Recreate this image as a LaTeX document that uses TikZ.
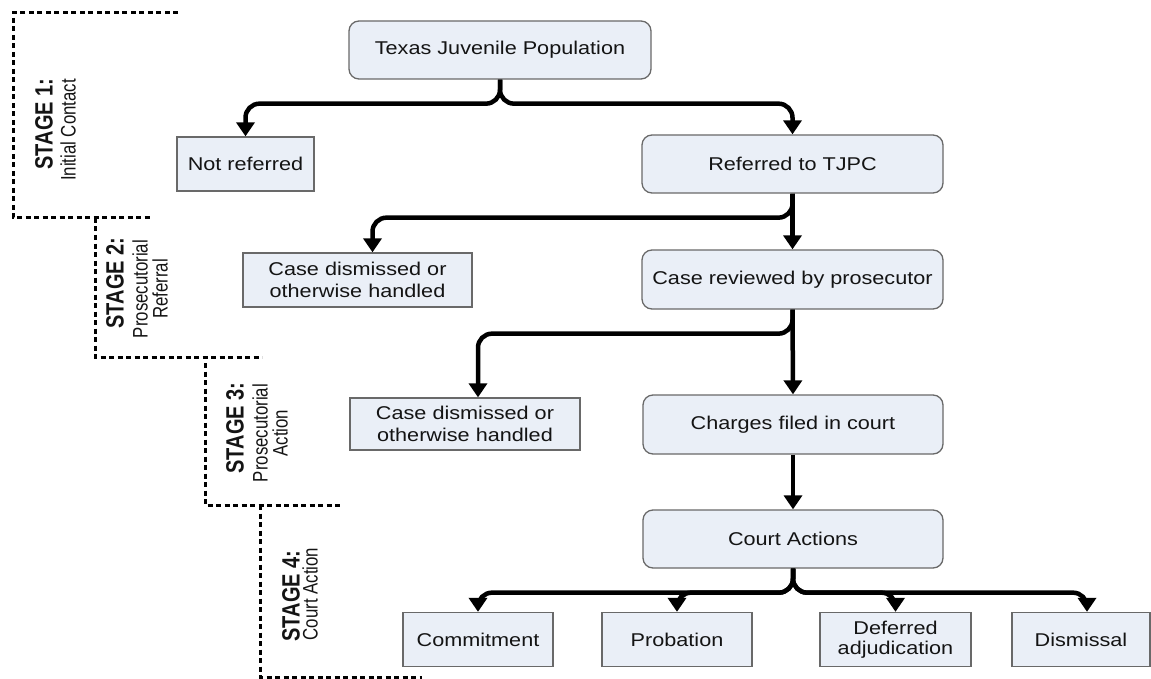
\documentclass[tikz,border=0pt]{standalone}
\usepackage{fontspec}
\setmainfont{Liberation Sans}[FakeStretch=1.17]
\newfontfamily\stagefont{Liberation Sans}[FakeStretch=0.8]
\usetikzlibrary{arrows.meta}
\definecolor{boxfill}{RGB}{234,239,247}
\definecolor{boxdraw}{RGB}{105,105,105}
\definecolor{txt}{RGB}{20,20,20}
\tikzset{
  boxbase/.style={draw=boxdraw, fill=boxfill, line width=1.3pt, inner sep=0pt,
    text=txt, align=center, font=\fontsize{18.5}{22}\selectfont},
  sqbox/.style={boxbase},
  rbox/.style={boxbase, rounded corners=10pt},
  conn/.style={line width=4.5pt, rounded corners=14pt, -{Triangle[width=18pt,length=14pt]}},
  stagebd/.style={line width=3pt, dash pattern=on 5pt off 3.5pt},
  stagehead/.style={rotate=90, inner sep=0pt, text=txt, font=\stagefont\bfseries\fontsize{25}{26}\selectfont},
  stagesub/.style={rotate=90, inner sep=0pt, text=txt, align=center, font=\stagefont\fontsize{21}{20}\selectfont},
}
\begin{document}
\begin{tikzpicture}[x=1pt,y=-1pt]
\path[use as bounding box] (0,0) rectangle (1151,679);

% stage outlines
\draw[stagebd] (178,13) -- (13,13) -- (13,218) -- (152,218);
\draw[stagebd] (95,218) -- (95,357) -- (262,357);
\draw[stagebd] (205,363) -- (205,505) -- (343,505);
\draw[stagebd] (260,505) -- (260,677) -- (422,677);

% stage labels
\node[stagehead] (st1) at (44,124) {STAGE 1:};
\node[stagesub] (st1s) at (68,130) {Initial Contact};
\node[stagehead] (st2) at (115,283) {STAGE 2:};
\node[stagesub] (st2s) at (150,289) {Prosecutorial\\Referral};
\node[stagehead] (st3) at (235,428) {STAGE 3:};
\node[stagesub] (st3s) at (270,433) {Prosecutorial\\Action};
\node[stagehead] (st4) at (291,596) {STAGE 4:};
\node[stagesub] (st4s) at (310,594) {Court Action};

% boxes
\node[rbox, minimum width=302pt, minimum height=58pt] (tjp) at (500,50) {Texas Juvenile Population};
\node[sqbox, minimum width=137pt, minimum height=54pt] (nr) at (245.5,164) {Not referred};
\node[rbox, minimum width=301pt, minimum height=58pt] (ref) at (792.5,164) {Referred to TJPC};
\node[sqbox, minimum width=229pt, minimum height=54pt] (cd1) at (357.5,280) {Case dismissed or\\otherwise handled};
\node[rbox, minimum width=301pt, minimum height=59pt] (crp) at (792.5,279.5) {Case reviewed by prosecutor};
\node[sqbox, minimum width=230pt, minimum height=52pt] (cd2) at (465,424) {Case dismissed or\\otherwise handled};
\node[rbox, minimum width=300pt, minimum height=59pt] (cf) at (793,424.5) {Charges filed in court};
\node[rbox, minimum width=300pt, minimum height=58pt] (ca) at (793,539) {Court Actions};
\node[sqbox, minimum width=150pt, minimum height=54pt] (com) at (478,639.5) {Commitment};
\node[sqbox, minimum width=150pt, minimum height=54pt] (prob) at (677,639.5) {Probation};
\node[sqbox, minimum width=151pt, minimum height=54pt, font=\fontsize{18.5}{20.5}\selectfont] (def) at (895.5,639.5) {Deferred\\adjudication};
\node[sqbox, minimum width=138pt, minimum height=54pt] (dis) at (1081,639.5) {Dismissal};

% connectors
\draw[conn] (tjp.south) -- ++(0,24) -| (nr.north);
\draw[conn] (tjp.south) -- ++(0,24) -| (ref.north);
\draw[conn] (ref.south) -- ++(0,24) -| ([xshift=15pt]cd1.north);
\draw[conn] (ref.south) -- (crp.north);
\draw[conn] (crp.south) -- ++(0,24) -| ([xshift=13pt]cd2.north);
\draw[conn] (crp.south) -- (cf.north);
\draw[conn] (cf.south) -- (ca.north);
\draw[conn] (ca.south) -- ++(0,24) -| (com.north);
\draw[conn] (ca.south) -- ++(0,24) -| (prob.north);
\draw[conn] (ca.south) -- ++(0,24) -| (def.north);
\draw[conn] (ca.south) -- ++(0,24) -| ([xshift=6pt]dis.north);
\end{tikzpicture}
\end{document}
